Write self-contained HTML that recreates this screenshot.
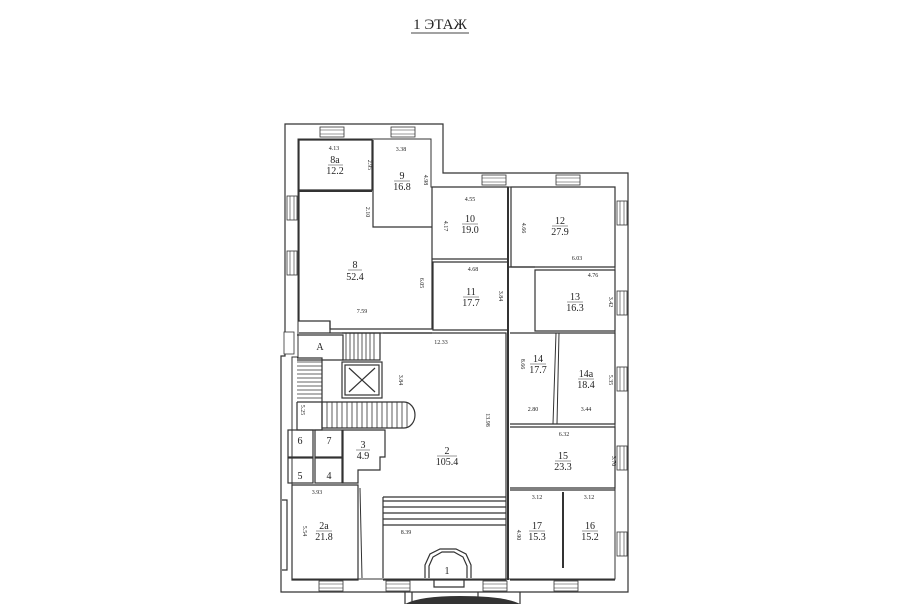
<!DOCTYPE html>
<html><head><meta charset="utf-8"><style>
html,body{margin:0;padding:0;background:#fff}
svg{display:block}
text{font-family:"Liberation Serif",serif;fill:#222}
</style></head><body>
<svg width="900" height="604" viewBox="0 0 900 604" xmlns="http://www.w3.org/2000/svg">
<rect width="900" height="604" fill="#fff"/>
<text x="440" y="29" font-size="15" text-anchor="middle">1 ЭТАЖ</text>
<line x1="411" y1="33" x2="469" y2="33" stroke="#444" stroke-width="1"/>

<g fill="none" stroke="#333" stroke-width="1.2">
<!-- outer walls -->
<path d="M285,124 H443 V173 H628 V592 H281 V356 H285 Z"/>
<path d="M298,139 H431 V187 H615 V579 H292 V357 H298 Z" stroke-width="1"/>
<!-- rooms top-left -->
<path d="M299,140 H372 V190 H299 Z"/>
<path d="M373,140 V227 H432"/>
<path d="M299,191 H372" stroke-width="2"/>
<path d="M299,190 V321 H330 V329 H432 V187"/>
<path d="M299,333 H432" />
<path d="M330,321 V333"/>
<!-- 10,11,12,13 -->
<path d="M432,187 H508 V259 H432"/>
<path d="M433,262 H508 V330 H433 Z"/>
<path d="M511,187 H615 V267 H511 Z"/>
<path d="M535,270 H615 V331 H535 Z"/>
<path d="M508,187 V580" stroke-width="2"/>
<path d="M508,267 H535"/>
<!-- 14,14a,15,16,17 -->
<path d="M510,333 H615 V424 H510"/>
<path d="M556,333 L553,424 M559,333 L557,424" stroke-width="1"/>
<path d="M510,427 H615 V488 H510"/>
<path d="M510,490 H615"/>
<path d="M563,492 V568" stroke-width="2"/>
<path d="M510,580 H615"/>
<!-- hall 2 -->
<path d="M383,333 H506 V580 H383"/>
<!-- left stair block -->
<path d="M297,335 H343 V360 H297"/>
<path d="M342,333 H380 V360 H342"/>
<path d="M297,358 H322 V402 H297"/>
<rect x="342" y="362" width="40" height="36"/>
<rect x="345" y="365" width="34" height="30"/>
<path d="M349,368 L375,392 M375,368 L349,392"/>
<path d="M322,402 H404 A11,13 0 0 1 404,428 H322 Z"/>
<path d="M297,402 V430 H322 V402"/>
<!-- wc block -->
<rect x="288" y="430" width="25" height="27"/>
<rect x="288" y="458" width="25" height="25"/>
<rect x="315" y="430" width="27" height="27"/>
<rect x="315" y="458" width="27" height="25"/>
<path d="M343,430 H385 V457 H380 V470 H358 V483 H343 Z"/>
<!-- 2a -->
<path d="M292,485 H358 V580 H292 Z"/>
<path d="M360,488 L362,578" stroke-width="1"/>
<path d="M282,500 H287 V570 H282"/>
<!-- bottom stair -->
<path d="M383,497 H506 M383,501 H506 M383,507 H506 M383,513 H506 M383,519 H506 M383,525 H506 M383,497 V578"/>
<!-- entrance arch -->
<path d="M425,578 V565 L430,554 L440,549 H456 L466,554 L471,565 V578"/>
<path d="M429,578 V566 L433,557 L442,552 H454 L463,557 L467,566 V578"/>
<path d="M434,580 V587 H464 V580"/>
<path d="M405,592 V604 M520,592 V604 M412,592 V604 M478,592 V604"/>
</g>
<path d="M405,604 Q420,596 460,596 Q505,596 520,604 Z" fill="#333"/>

<!-- stair treads -->
<g stroke="#333" stroke-width="0.8">
<path d="M346,333V360M350,333V360M354,333V360M358,333V360M362,333V360M366,333V360M370,333V360M374,333V360"/>
<path d="M297,362H322M297,366H322M297,370H322M297,374H322M297,378H322M297,382H322M297,386H322M297,390H322M297,394H322M297,398H322"/>
<path d="M327,402V428M332,402V428M337,402V428M342,402V428M347,402V428M352,402V428M357,402V428M362,402V428M367,402V428M372,402V428M377,402V428M382,402V428M387,402V428M392,402V428M397,402V428M402,402V428M407,403V427"/>
</g>

<!-- windows -->
<g fill="#fff" stroke="#333" stroke-width="0.8">
<rect x="320" y="127" width="24" height="10"/><rect x="391" y="127" width="24" height="10"/>
<rect x="482" y="175" width="24" height="10"/><rect x="556" y="175" width="24" height="10"/>
<rect x="287" y="196" width="10" height="24"/><rect x="287" y="251" width="10" height="24"/>
<rect x="617" y="201" width="10" height="24"/><rect x="617" y="291" width="10" height="24"/>
<rect x="617" y="367" width="10" height="24"/><rect x="617" y="446" width="10" height="24"/>
<rect x="617" y="532" width="10" height="24"/>
<rect x="284" y="332" width="10" height="22"/>
<rect x="319" y="581" width="24" height="10"/><rect x="386" y="581" width="24" height="10"/>
<rect x="483" y="581" width="24" height="10"/><rect x="554" y="581" width="24" height="10"/>
</g>
<g stroke="#333" stroke-width="0.6">
<path d="M320,130H344M320,134H344M391,130H415M391,134H415M482,178H506M482,182H506M556,178H580M556,182H580"/>
<path d="M290,196V220M294,196V220M290,251V275M294,251V275M620,201V225M624,201V225M620,291V315M624,291V315M620,367V391M624,367V391M620,446V470M624,446V470M620,532V556M624,532V556"/>
<path d="M319,584H343M319,588H343M386,584H410M386,588H410M483,584H507M483,588H507M554,584H578M554,588H578"/>
</g>

<!-- room labels -->
<g font-size="10" text-anchor="middle">
<text x="335" y="163">8а</text><text x="335" y="174">12.2</text>
<text x="402" y="179">9</text><text x="402" y="190">16.8</text>
<text x="470" y="222">10</text><text x="470" y="233">19.0</text>
<text x="560" y="224">12</text><text x="560" y="235">27.9</text>
<text x="355" y="268">8</text><text x="355" y="280">52.4</text>
<text x="471" y="295">11</text><text x="471" y="306">17.7</text>
<text x="575" y="300">13</text><text x="575" y="311">16.3</text>
<text x="538" y="362">14</text><text x="538" y="373">17.7</text>
<text x="586" y="377">14а</text><text x="586" y="388">18.4</text>
<text x="363" y="448">3</text><text x="363" y="459">4.9</text>
<text x="447" y="454">2</text><text x="447" y="465">105.4</text>
<text x="563" y="459">15</text><text x="563" y="470">23.3</text>
<text x="300" y="444">6</text><text x="329" y="444">7</text>
<text x="300" y="479">5</text><text x="329" y="479">4</text>
<text x="324" y="529">2а</text><text x="324" y="540">21.8</text>
<text x="537" y="529">17</text><text x="537" y="540">15.3</text>
<text x="590" y="529">16</text><text x="590" y="540">15.2</text>
<text x="447" y="574">1</text>
<text x="320" y="350">А</text>
</g>
<g stroke="#333" stroke-width="0.6">
<path d="M328,165H343M394,181H410M462,224H478M552,226H568M348,270H362M463,297H479M567,302H583M530,364H546M578,379H594M356,450H370M437,456H457M555,461H571M316,531H332M529,531H545M582,531H598"/>
</g>

<!-- dimensions -->
<g font-size="6" text-anchor="middle">
<text x="334" y="150">4.13</text><text x="401" y="151">3.38</text>
<text x="470" y="201">4.55</text><text x="473" y="271">4.68</text>
<text x="577" y="260">6.03</text><text x="593" y="277">4.76</text>
<text x="362" y="313">7.59</text><text x="441" y="344">12.33</text>
<text x="533" y="411">2.80</text><text x="586" y="411">3.44</text>
<text x="564" y="436">6.32</text><text x="537" y="499">3.12</text>
<text x="589" y="499">3.12</text><text x="406" y="534">8.39</text>
<text x="317" y="494">3.93</text>
</g>
<g font-size="6" text-anchor="middle">
<text transform="translate(368,165) rotate(90)">2.95</text>
<text transform="translate(424,180) rotate(90)">4.98</text>
<text transform="translate(366,212) rotate(90)">2.10</text>
<text transform="translate(444,226) rotate(90)">4.17</text>
<text transform="translate(522,228) rotate(90)">4.66</text>
<text transform="translate(420,283) rotate(90)">6.05</text>
<text transform="translate(499,296) rotate(90)">3.84</text>
<text transform="translate(609,302) rotate(90)">3.42</text>
<text transform="translate(521,364) rotate(90)">8.66</text>
<text transform="translate(609,380) rotate(90)">5.35</text>
<text transform="translate(399,380) rotate(90)">3.84</text>
<text transform="translate(486,420) rotate(90)">13.98</text>
<text transform="translate(301,410) rotate(90)">5.25</text>
<text transform="translate(612,461) rotate(90)">3.70</text>
<text transform="translate(517,535) rotate(90)">4.90</text>
<text transform="translate(303,531) rotate(90)">5.54</text>
</g>
</svg>
</body></html>
